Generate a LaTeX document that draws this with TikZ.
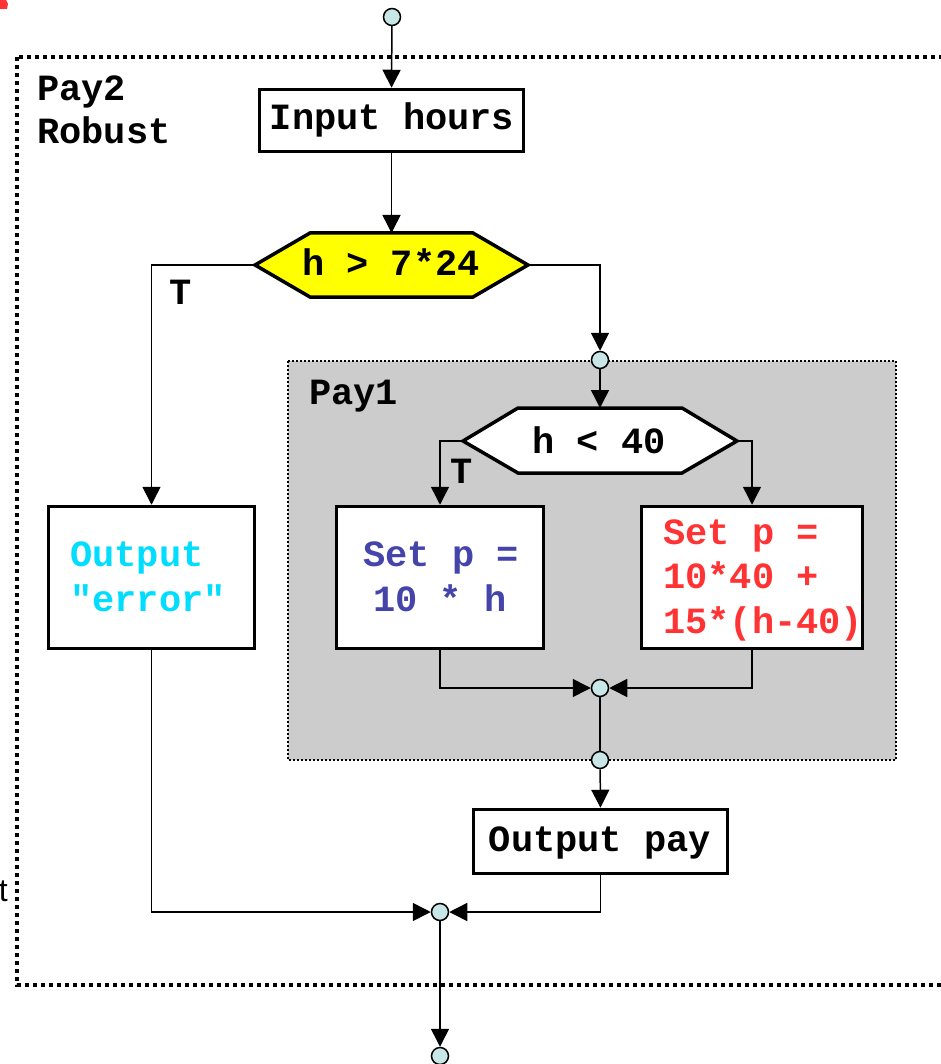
\documentclass[tikz,border=0pt]{standalone}
\usepackage{fontspec}
\setmonofont{Liberation Mono}
\setmainfont{Liberation Sans}
\usetikzlibrary{arrows.meta}
\definecolor{connfill}{HTML}{C8E6E6}
\definecolor{grayfill}{HTML}{CCCCCC}
\definecolor{errcyan}{HTML}{00DDFF}
\definecolor{setblue}{HTML}{4444AA}
\definecolor{setred}{HTML}{FF3333}
\definecolor{hexyellow}{HTML}{FFFF00}
\begin{document}
\begin{tikzpicture}[x=1pt,y=-1pt,
  box/.style={draw=black, line width=3.5pt, fill=white, inner sep=0pt},
  hexbox/.style={draw=black, line width=3.5pt, line join=miter},
  connpt/.style={circle, draw=black, line width=1.5pt, fill=connfill, minimum size=17pt, inner sep=0pt},
  flow/.style={line width=1.5pt, -{Triangle[length=18pt,width=18pt]}},
  plainline/.style={line width=1.5pt},
  code/.style={font=\fontsize{37}{44}\selectfont\ttfamily\bfseries, inner sep=0pt},
  ]
\clip (0,0) rectangle (941,1064);
\fill[white] (0,0) rectangle (941,1064);
% fragments at the left edge
\fill[setred] (0,0) -- (6,0) -- (8,4) -- (7,9) -- (0,9) -- cycle;
\node[anchor=base east, inner sep=0pt, font=\fontsize{32}{36}\selectfont] (tfrag) at (8,901) {t};
% outer dotted frame (Pay2 Robust)
\draw[line width=4pt, dash pattern=on 4pt off 4pt] (17,57) rectangle (980,985);
\node[code, anchor=base west] (pay2) at (37,101) {Pay2};
\node[code, anchor=base west] (robust) at (37,144) {Robust};
% inner gray frame (Pay1)
\draw[fill=grayfill, line width=2pt, dash pattern=on 2pt off 2pt] (288,361) rectangle (896,760);
\node[code, anchor=base west] (pay1) at (309,404) {Pay1};

% connector points
\node[connpt] (c1) at (392,17) {};
\node[connpt] (c2) at (600,360) {};
\node[connpt] (c3) at (600,688) {};
\node[connpt] (c4) at (600,760) {};
\node[connpt] (c5) at (440,912) {};
\node[connpt] (c6) at (440,1056) {};

% boxes
\node[box, minimum width=264pt, minimum height=62pt] (inp) at (391.5,120.5) {};
\node[code, anchor=base] (inpt) at (392,130) {Input hours};
\node[box, minimum width=206pt, minimum height=142pt] (err) at (151.5,577.5) {};
\node[code, anchor=base west, text=errcyan] (errt1) at (70,566) {Output};
\node[code, anchor=base west, text=errcyan] (errt2) at (70,611) {"error"};
\node[box, minimum width=207pt, minimum height=142pt] (set1) at (440,577.5) {};
\node[code, anchor=base, text=setblue] (set1a) at (441,566) {Set p =};
\node[code, anchor=base, text=setblue] (set1b) at (440,611) {10 * h};
\node[box, minimum width=221pt, minimum height=142pt] (set2) at (752,577.5) {};
\node[code, anchor=base west, text=setred] (set2a) at (663,544) {Set p =};
\node[code, anchor=base west, text=setred] (set2b) at (663,588) {10*40 +};
\node[code, anchor=base west, text=setred] (set2c) at (663,633) {15*(h-40)};
\node[box, minimum width=254pt, minimum height=64pt] (outp) at (600.5,841.5) {};
\node[code, anchor=base] (outpt) at (600,851) {Output pay};

% hexagon 1
\coordinate (h1W) at (255,265);
\coordinate (h1E) at (528,265);
\coordinate (h1N) at (391.5,233);
\draw[hexbox, fill=hexyellow] (h1W) -- (310,233) -- (473,233) -- (h1E) -- (473,297) -- (310,297) -- cycle;
\node[code, anchor=base] (h1t) at (391,276) {h > 7*24};
% hexagon 2
\coordinate (h2W) at (463,441);
\coordinate (h2E) at (737,441);
\coordinate (h2N) at (600,408);
\draw[hexbox, fill=white] (h2W) -- (518,408) -- (682,408) -- (h2E) -- (682,473) -- (518,473) -- cycle;
\node[code, anchor=base] (h2t) at (599,453) {h < 40};

% labels
\node[code, anchor=base] (t1) at (181,305) {T};
\node[code, anchor=base] (t2) at (462,483) {T};

% connectors
\draw[flow] (c1) -- (inp.north);
\draw[flow] (inp.south) -- (h1N);
\draw[flow] (h1W) -| (err.north);
\draw[flow] (h1E) -| (c2.north);
\draw[flow] (c2) -- (h2N);
\draw[flow] (h2W) -| (set1.north);
\draw[flow] (h2E) -| (set2.north);
\draw[flow] (set1.south) |- (c3.west);
\draw[flow] (set2.south) |- (c3.east);
\draw[plainline] (c3) -- (c4);
\draw[flow] (c4) -- (outp.north);
\draw[flow] (err.south) |- (c5.west);
\draw[flow] (outp.south) |- (c5.east);
\draw[flow] (c5) -- (c6);
\end{tikzpicture}
\end{document}
